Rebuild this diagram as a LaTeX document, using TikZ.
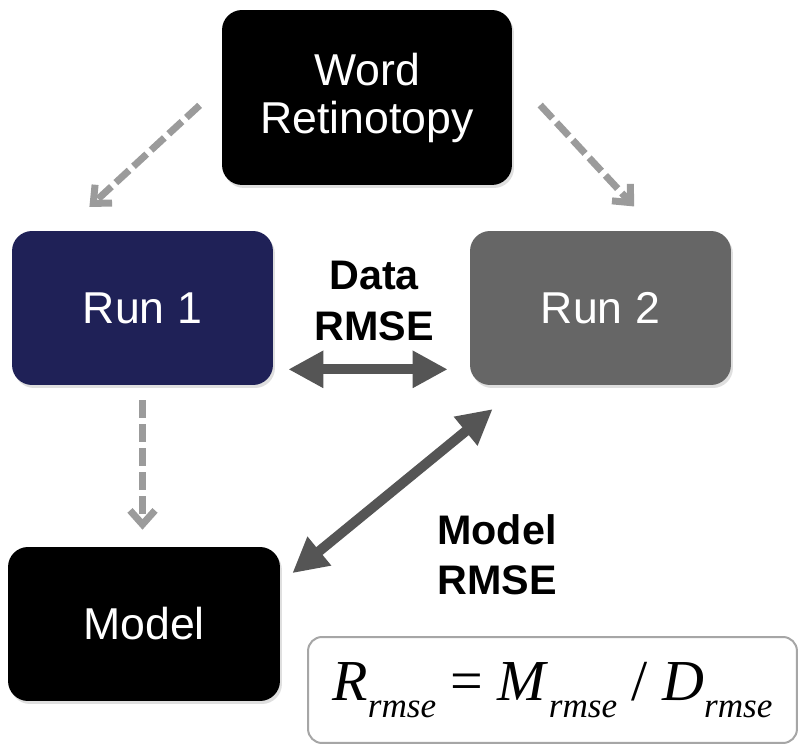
\documentclass[tikz,border=0pt]{standalone}
\usepackage{fontspec}
\setmainfont{Liberation Sans}
\newfontfamily\formfont{Liberation Serif}
\usetikzlibrary{arrows.meta,calc,shadows}
\definecolor{runnavy}{RGB}{31,33,87}
\definecolor{rungray}{RGB}{102,102,102}
\definecolor{arrowgray}{RGB}{85,85,85}
\definecolor{dashgray}{RGB}{155,155,155}
\newcommand{\rmsevar}[1]{\textit{#1}\raisebox{-0.3em}{\fontsize{20}{20}\selectfont\textit{rmse}}}

\begin{document}
\begin{tikzpicture}[x=0.02cm,y=-0.02cm,>=Latex,
  box/.style={rounded corners=0.4cm,text=white,align=center,minimum height=3.08cm,
    font=\fontsize{25.4}{27.3}\selectfont,
    drop shadow={opacity=0.25,shadow xshift=0.04cm,shadow yshift=-0.06cm}},
  dasharr/.style={draw=dashgray,line width=0.14cm,dash pattern=on 0.36cm off 0.12cm,
    -{Straight Barb[length=0.28cm,width=0.5cm]}},
  dblarr/.style={draw=arrowgray,line width=0.2cm,
    {Triangle[length=0.7cm,width=0.7cm]}-{Triangle[length=0.7cm,width=0.7cm]}},
  lbl/.style={align=center,font=\bfseries\fontsize{23.5}{28.5}\selectfont}]
  \useasboundingbox (0,0) rectangle (799,746);
  \node[box,fill=black,minimum width=5.8cm,minimum height=3.5cm] (word) at (367,97.5) {Word\\Retinotopy};
  \node[box,fill=runnavy,minimum width=5.22cm] (run1) at (142.5,308) {Run 1};
  \node[box,fill=rungray,minimum width=5.22cm] (run2) at (600.5,308) {Run 2};
  \node[box,fill=black,minimum width=5.44cm] (model) at (144,624) {Model};
  \draw[dasharr,shorten <=0.6cm,shorten >=0.7cm] ($(word.west)+(0,-12.5)$) -- ($(run1.north west)+(52,0)$);
  \draw[dasharr,shorten <=0.82cm,shorten >=0.66cm] ($(word.east)+(0,-22.5)$) -- ($(run2.north west)+(187,0)$);
  \draw[dasharr,shorten <=0.3cm,shorten >=0.34cm] (run1.south) -- (run1.south |- model.north);
  \draw[dblarr,shorten <=0.3cm,shorten >=0.44cm] ($(run1.south east)+(0,-16)$) -- ($(run2.south west)+(0,-16)$);
  \draw[dblarr,shorten <=0.31cm,shorten >=0.75cm] ($(model.east)+(0,-41)$) -- ($(run2.south west)+(52,0)$);
  \node[lbl] (datalbl) at (374,301) {Data\\RMSE};
  \node[lbl] (modellbl) at (497,555) {Model\\RMSE};
  \node[draw=gray!70,line width=0.04cm,rounded corners=0.28cm,fill=white,minimum width=9.78cm,minimum height=2.12cm] (ratio) at (552.5,690)
    {\formfont\fontsize{33}{33}\selectfont\rmsevar{R} = \rmsevar{M} / \rmsevar{D}};
\end{tikzpicture}
\end{document}
